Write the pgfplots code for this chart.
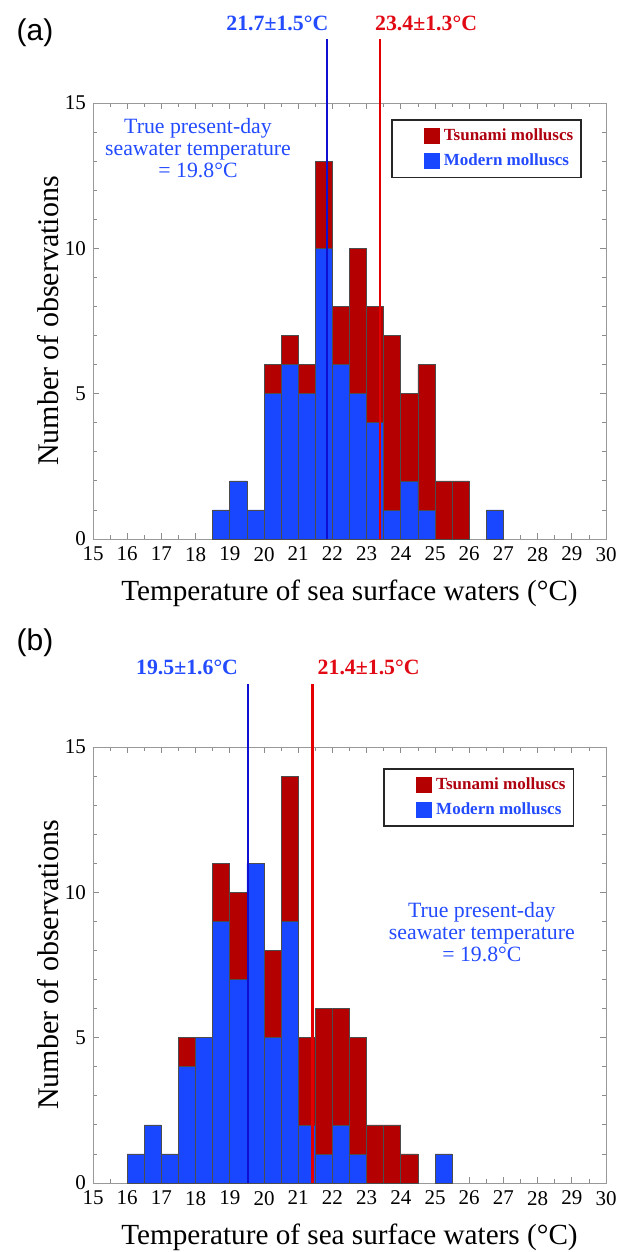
\documentclass[border=0pt]{standalone}
\usepackage{fontspec}
\setmainfont{Liberation Serif}
\newfontfamily\sansfont{Liberation Sans}
\usepackage{pgfplots}
\pgfplotsset{compat=1.18}

\definecolor{modblue}{RGB}{25,70,255}
\definecolor{tsred}{RGB}{180,0,0}
\definecolor{lineblue}{RGB}{15,15,210}
\definecolor{linered}{RGB}{228,0,0}
\definecolor{txtblue}{RGB}{35,75,255}
\definecolor{txtred}{RGB}{175,0,15}
\definecolor{meanred}{RGB}{225,10,20}

% panel (a): modern / tsunami counts per 0.5 degC bin (bin centres)
\pgfplotstableread{
x     modern tsunami
18.75 1 0
19.25 2 0
19.75 1 0
20.25 5 1
20.75 6 1
21.25 5 1
21.75 10 3
22.25 6 2
22.75 5 5
23.25 4 4
23.75 1 6
24.25 2 3
24.75 1 5
25.25 0 2
25.75 0 2
26.75 1 0
}\dataA

% panel (b)
\pgfplotstableread{
x     modern tsunami
16.25 1 0
16.75 2 0
17.25 1 0
17.75 4 1
18.25 5 0
18.75 9 2
19.25 7 3
19.75 11 0
20.25 5 3
20.75 9 5
21.25 2 3
21.75 1 5
22.25 2 4
22.75 1 4
23.25 0 2
23.75 0 2
24.25 0 1
25.25 1 0
}\dataB

\pgfplotsset{
  sstplot/.style={
    scale only axis,
    width=256.5bp, height=218bp,
    anchor=south west,
    xmin=15, xmax=30, ymin=0, ymax=15,
    xtick={15,16,...,30}, minor x tick num=1,
    ytick={0,5,10,15}, minor y tick num=4,
    tick align=inside,
    major tick length=3bp, minor tick length=2bp,
    every tick/.style={draw=black!45, line width=0.4bp},
    axis line style={draw=black!40, line width=0.5bp},
    /pgf/number format/assume math mode=true,
    ticklabel style={font=\fontsize{10.5bp}{12bp}\selectfont},
    xticklabel style={yshift=-0.5bp},
    xlabel={Temperature of sea surface waters (°C)},
    ylabel={Number of observations},
    xlabel style={at={(axis description cs:0.5,0)}, anchor=center, yshift=-27bp,
      font=\fontsize{14.6bp}{16bp}\selectfont},
    ylabel style={at={(axis description cs:-0.0877,0.5)}, anchor=center,
      font=\fontsize{15bp}{17bp}\selectfont},
    clip=false,
    ybar stacked, bar width=0.5,
    reverse stacked plots=false,
    legend cell align=left,
    legend style={anchor=north west, draw=black!85, line width=0.9bp,
      font=\bfseries\fontsize{8.5bp}{10bp}\selectfont,
      inner xsep=2bp, inner ysep=2.5bp, row sep=1bp},
  },
  barmod/.style={fill=modblue, draw=black!70, line width=0.35bp, forget plot},
  bartsu/.style={fill=tsred, draw=black!70, line width=0.35bp, forget plot},
  meanline/.style={sharp plot, stack plots=false, no marks, line width=1.1bp, forget plot},
  sqimg/.style={legend image code/.code={
      \path[draw=none,fill=none] (0,0) -- (14bp,0);
      \fill[#1, draw=none] (14bp,-4bp) rectangle (22bp,4bp);}},
}

\begin{document}
\begin{tikzpicture}
\path[use as bounding box] (0,0) rectangle (314.5bp,-626bp);

% ---------------- (a)
\begin{axis}[sstplot, at={(46.5bp,-269.5bp)},
  legend style={at={(0.581,0.963)}}]
  \addlegendimage{sqimg=tsred}
  \addlegendentry{\textcolor{txtred}{Tsunami molluscs}}
  \addlegendimage{sqimg=modblue}
  \addlegendentry{\textcolor{txtblue}{Modern molluscs}}
  \addplot[barmod] table[x=x, y=modern] {\dataA};
  \addplot[bartsu] table[x=x, y=tsunami] {\dataA};
  \addplot[meanline, lineblue] coordinates {(21.84,0) (21.84,17.2)};
  \addplot[meanline, linered] coordinates {(23.39,0) (23.39,17.2)};
  \node[font=\bfseries\fontsize{10.9bp}{12bp}\selectfont, text=txtblue] at (axis cs:20.39,17.75) {21.7±1.5°C};
  \node[font=\bfseries\fontsize{10.9bp}{12bp}\selectfont, text=meanred] at (axis cs:24.74,17.75) {23.4±1.3°C};
  \node[align=center, text=txtblue, font=\fontsize{10.9bp}{10.8bp}\selectfont] at (axis cs:18.07,13.45)
    {True present-day\\seawater temperature\\= 19.8°C};
\end{axis}
\node[font=\sansfont\fontsize{15bp}{18bp}\selectfont] at (17.5bp,-16.5bp) {(a)};

% ---------------- (b)
\begin{axis}[sstplot, at={(46.5bp,-591.5bp)},
  legend style={at={(0.566,0.952)}}]
  \addlegendimage{sqimg=tsred}
  \addlegendentry{\textcolor{txtred}{Tsunami molluscs}}
  \addlegendimage{sqimg=modblue}
  \addlegendentry{\textcolor{txtblue}{Modern molluscs}}
  \addplot[barmod] table[x=x, y=modern] {\dataB};
  \addplot[bartsu] table[x=x, y=tsunami] {\dataB};
  \addplot[meanline, lineblue] coordinates {(19.53,0) (19.53,17.16)};
  \addplot[meanline, linered] coordinates {(21.42,0) (21.42,17.16)};
  \node[font=\bfseries\fontsize{10.9bp}{12bp}\selectfont, text=txtblue] at (axis cs:17.75,17.75) {19.5±1.6°C};
  \node[font=\bfseries\fontsize{10.9bp}{12bp}\selectfont, text=meanred] at (axis cs:23.06,17.75) {21.4±1.5°C};
  \node[align=center, text=txtblue, font=\fontsize{10.9bp}{10.8bp}\selectfont] at (axis cs:26.37,8.63)
    {True present-day\\seawater temperature\\= 19.8°C};
\end{axis}
\node[font=\sansfont\fontsize{15bp}{18bp}\selectfont] at (17.5bp,-321.5bp) {(b)};
\end{tikzpicture}
\end{document}
